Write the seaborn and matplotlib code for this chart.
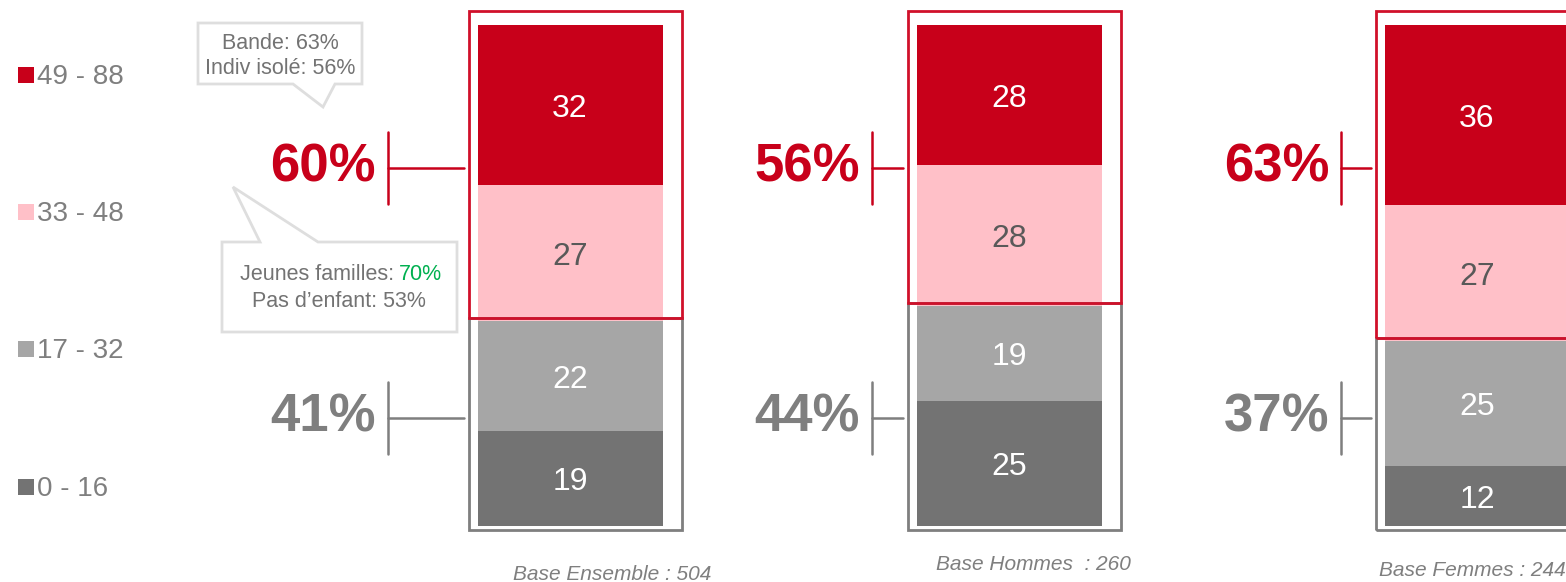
import numpy as np
import pandas as pd
import matplotlib.pyplot as plt
import matplotlib.patches as mpatches
import seaborn as sns

# Données
groupes = ["Ensemble", "Hommes", "Femmes"]
tranches = ["49 - 88", "33 - 48", "17 - 32", "0 - 16"]
v_49_88 = [32, 28, 36]
v_33_48 = [27, 28, 27]
v_17_32 = [22, 19, 25]
v_0_16 = [19, 25, 12]
total_haut = [60, 56, 63]
total_bas = [41, 44, 37]
bases = [504, 260, 244]
base_labels = ["Base Ensemble : 504", "Base Hommes  : 260", "Base Femmes : 244"]

ROUGE = "#c8001a"
ROSE = "#ffc0c8"
GRIS_CLAIR = "#a6a6a6"
GRIS_FONCE = "#737373"
GRIS_TXT = "#7f7f7f"
couleurs = [ROUGE, ROSE, GRIS_CLAIR, GRIS_FONCE]

sns.set_theme(style="white")
plt.rcParams['font.family'] = ['Liberation Sans', 'DejaVu Sans']

W, H = 1566, 582
fig = plt.figure(figsize=(W / 100, H / 100), dpi=100)
ax = fig.add_axes([0, 0, 1, 1])

# échelle : 0 -> pixel 526, 100 -> pixel 25
Y0, PX = 526, 5.01
def ypx(p):
    return (Y0 - p) / PX

bar_x = [570, 1009, 1477]
cum1 = np.array(v_0_16)
cum2 = cum1 + np.array(v_17_32)
cum3 = cum2 + np.array(v_33_48)
cum4 = cum3 + np.array(v_49_88)
cums = [cum4, cum3, cum2, cum1]

largeur = 185 / (bar_x[1] - bar_x[0])
for cum, col in zip(cums, couleurs):
    sns.barplot(x=bar_x, y=cum, native_scale=True, width=largeur, color=col,
                saturation=1, errorbar=None, orient="x", ax=ax, linewidth=0)

ax.set_xlim(0, W)
ax.set_ylim(ypx(H), ypx(0))
ax.axis('off')

# valeurs dans les segments
bas = [np.zeros(3), cum1, cum2, cum3]
vals = [v_0_16, v_17_32, v_33_48, v_49_88]
txtcol = ["white", "white", "#595959", "white"]
for b, v, tc in zip(bas, vals, txtcol):
    for i in range(3):
        ax.text(bar_x[i], b[i] + v[i] / 2 - 0.8, str(v[i]), ha='center', va='center',
                fontsize=23, color=tc)

# cadres rouge / gris
for i in range(3):
    x0 = bar_x[i] - 101
    joint = cum2[i] + 0.6
    ax.add_patch(mpatches.Rectangle((x0, ypx(530)), 213, joint - ypx(530), fill=False,
                                    edgecolor=GRIS_TXT, lw=2, zorder=3))
    ax.add_patch(mpatches.Rectangle((x0, joint), 213, ypx(11) - joint, fill=False,
                                    edgecolor="#d0102a", lw=2, zorder=4))

# accolades et totaux
bracket_x = [388, 872, 1341]
for i in range(3):
    bx = bracket_x[i]
    for tot, yc, col in [(total_haut[i], 168, ROUGE), (total_bas[i], 418, GRIS_TXT)]:
        ax.plot([bx, bx], [ypx(yc - 36), ypx(yc + 36)], color=col, lw=1.8)
        ax.plot([bx, bar_x[i] - 106], [ypx(yc), ypx(yc)], color=col, lw=1.8)
        ax.text(bx - 12, ypx(yc - 1), f"{tot}%", ha='right', va='center',
                fontsize=38, fontweight='bold', color=col)

# légende
leg_y = [75, 212, 349, 487]
for lab, col, yy in zip(tranches, couleurs, leg_y):
    ax.scatter([25.5], [ypx(yy)], marker='s', s=117, color=col, linewidths=0)
    ax.text(37, ypx(yy + 2), lab, ha='left', va='center', fontsize=20, color=GRIS_TXT)

# bulles
bulle1 = [(198, 23), (362, 23), (362, 84), (335, 84), (323, 107), (293, 84), (198, 84)]
bulle2 = [(222, 242), (260, 242), (233, 187), (318, 242), (457, 242), (457, 332), (222, 332)]
for pts in [bulle1, bulle2]:
    ax.add_patch(mpatches.Polygon([(x, ypx(y)) for x, y in pts], closed=True,
                                  facecolor='white', edgecolor="#dedede", lw=2, zorder=5))
fs = 15.5
ax.text(280, ypx(43), "Bande: 63%", ha='center', va='center', fontsize=fs, color=GRIS_FONCE, zorder=6)
ax.text(280, ypx(68), "Indiv isolé: 56%", ha='center', va='center', fontsize=fs, color=GRIS_FONCE, zorder=6)
ax.text(394, ypx(274), "Jeunes familles:", ha='right', va='center', fontsize=fs, color=GRIS_FONCE, zorder=6)
ax.text(399, ypx(274), "70%", ha='left', va='center', fontsize=fs, color="#00b050", zorder=6)
ax.text(339, ypx(301), "Pas d\u2019enfant: 53%", ha='center', va='center', fontsize=fs, color=GRIS_FONCE, zorder=6)

# bases
base_pos = [(612, 574), (1033, 564), (1472, 571)]
for lab, (bx, by) in zip(base_labels, base_pos):
    ax.text(bx, ypx(by), lab, ha='center', va='center', fontsize=15, style='italic', color=GRIS_TXT)

fig.savefig("out.png", dpi=100)
